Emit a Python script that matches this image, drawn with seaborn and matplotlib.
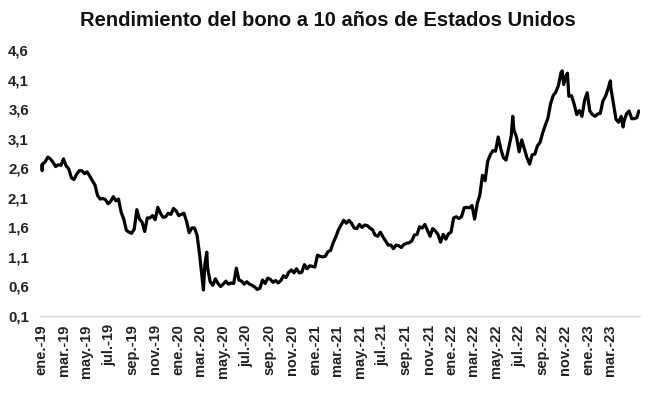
import numpy as np
import pandas as pd
import matplotlib
matplotlib.use("Agg")
import matplotlib.pyplot as plt
import matplotlib.dates as mdates
import seaborn as sns

# Weekly (Friday) closes of the US 10-year Treasury yield, %
y2019 = [2.67, 2.71, 2.79, 2.76, 2.70, 2.63, 2.66, 2.65, 2.76, 2.64, 2.59, 2.44, 2.41,
         2.50, 2.56, 2.56, 2.51, 2.54, 2.47, 2.39, 2.32, 2.14, 2.08, 2.09, 2.07, 2.00,
         2.04, 2.12, 2.05, 2.08, 1.86, 1.74, 1.55, 1.52, 1.50, 1.57, 1.90, 1.74, 1.69,
         1.53, 1.76, 1.76, 1.80, 1.73, 1.94, 1.84, 1.77, 1.78, 1.84, 1.82, 1.92, 1.88]
y2020 = [1.80, 1.82, 1.84, 1.70, 1.51, 1.59, 1.59, 1.47, 1.13, 0.71, 0.98, 0.92, 0.68,
         0.62, 0.73, 0.65, 0.60, 0.64, 0.69, 0.64, 0.66, 0.65, 0.91, 0.71, 0.69, 0.64,
         0.68, 0.64, 0.62, 0.59, 0.55, 0.57, 0.71, 0.65, 0.74, 0.72, 0.67, 0.70, 0.66,
         0.70, 0.78, 0.75, 0.84, 0.88, 0.83, 0.90, 0.83, 0.84, 0.97, 0.90, 0.95, 0.94]
y2021 = [0.93, 1.13, 1.11, 1.10, 1.11, 1.19, 1.21, 1.34, 1.44, 1.56, 1.64, 1.72, 1.67,
         1.72, 1.67, 1.59, 1.58, 1.65, 1.60, 1.64, 1.63, 1.59, 1.56, 1.47, 1.45, 1.52,
         1.44, 1.37, 1.30, 1.30, 1.24, 1.30, 1.29, 1.26, 1.31, 1.33, 1.34, 1.37, 1.47,
         1.48, 1.61, 1.59, 1.65, 1.55, 1.45, 1.58, 1.54, 1.48, 1.35, 1.48, 1.40, 1.49, 1.52]
y2022 = [1.76, 1.78, 1.75, 1.78, 1.93, 1.94, 1.93, 1.97, 1.74, 2.00, 2.15, 2.48,
         2.39, 2.72, 2.83, 2.90, 2.89, 3.13, 2.93, 2.78, 2.74, 2.94, 3.15, 3.25, 3.13,
         2.88, 3.08, 2.93, 2.78, 2.67, 2.83, 2.84, 2.98, 3.04, 3.20, 3.33, 3.45, 3.69,
         3.83, 3.89, 4.00, 4.22, 4.02, 4.17, 3.82, 3.83, 3.69, 3.51, 3.58, 3.48, 3.75, 3.88]
y2023 = [3.57, 3.51, 3.48, 3.52, 3.53, 3.74, 3.82, 3.95, 3.97, 3.70, 3.43, 3.38, 3.48,
         3.39, 3.52, 3.57, 3.44, 3.44, 3.46]

# Individual daily closes (intraweek extremes)
extra_dates = ["2019-01-02", "2019-01-03", "2020-03-09", "2020-03-18", "2022-06-14",
               "2022-10-24", "2022-11-07", "2023-03-02", "2023-04-05", "2023-05-17"]
extra_values = [2.66, 2.56, 0.54, 1.18, 3.48, 4.25, 4.21, 4.08, 3.30, 3.57]

year_starts = {"2019-01-04": y2019, "2020-01-03": y2020, "2021-01-01": y2021,
               "2022-01-07": y2022, "2023-01-06": y2023}

tick_labels = ["ene.-19", "mar.-19", "may.-19", "jul.-19", "sep.-19", "nov.-19",
               "ene.-20", "mar.-20", "may.-20", "jul.-20", "sep.-20", "nov.-20",
               "ene.-21", "mar.-21", "may.-21", "jul.-21", "sep.-21", "nov.-21",
               "ene.-22", "mar.-22", "may.-22", "jul.-22", "sep.-22", "nov.-22",
               "ene.-23", "mar.-23"]
y_ticks = [0.1, 0.6, 1.1, 1.6, 2.1, 2.6, 3.1, 3.6, 4.1, 4.6]

frames = []
for start, vals in year_starts.items():
    frames.append(pd.DataFrame({"fecha": pd.date_range(start, periods=len(vals), freq="W-FRI"),
                                "rendimiento": vals}))
frames.append(pd.DataFrame({"fecha": pd.to_datetime(extra_dates), "rendimiento": extra_values}))
df = pd.concat(frames).sort_values("fecha").drop_duplicates("fecha").reset_index(drop=True)

sns.set_theme(style="white")
plt.rcParams["font.family"] = ["Liberation Sans", "DejaVu Sans"]

fig = plt.figure(figsize=(6.55, 3.95), dpi=100)
ax = fig.add_axes([0.061, 0.2, 0.916, 0.673])

sns.lineplot(data=df, x="fecha", y="rendimiento", ax=ax, color="black", linewidth=2.3,
             estimator=None, sort=True)

ax.set_xlim(pd.Timestamp("2018-12-28"), pd.Timestamp("2023-05-20"))
ax.set_ylim(0.1, 4.6)
ax.set_yticks(y_ticks)
ax.set_yticklabels([f"{v:.1f}".replace(".", ",") for v in y_ticks],
                   fontsize=10.8, fontweight="bold", color="#222222")
tick_pos = pd.date_range("2019-01-01", periods=len(tick_labels), freq="2MS")
ax.set_xticks(tick_pos)
ax.set_xticklabels(tick_labels, rotation=90, fontsize=10.5, fontweight="bold", color="#222222")
ax.tick_params(axis="both", length=0)
ax.tick_params(axis="y", pad=8)
ax.tick_params(axis="x", pad=6)
ax.set_xlabel("")
ax.set_ylabel("")
for s in ["top", "right", "left"]:
    ax.spines[s].set_visible(False)
ax.spines["bottom"].set_color("#d9d9d9")
ax.spines["bottom"].set_linewidth(1.0)
ax.grid(False)

fig.suptitle("Rendimiento del bono a 10 años de Estados Unidos", x=0.5, y=0.972,
             fontsize=14.5, fontweight="bold", color="#111111")

fig.savefig("out.png", dpi=100)
